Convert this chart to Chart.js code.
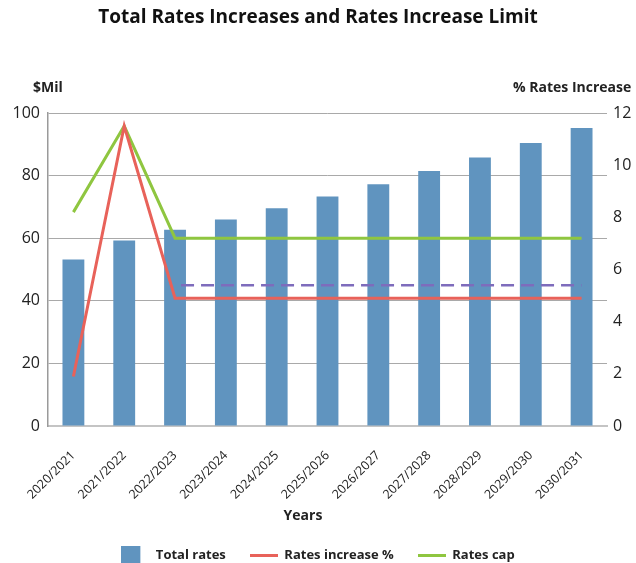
<!DOCTYPE html>
<html>
<head>
<meta charset="utf-8">
<title>Total Rates Increases and Rates Increase Limit</title>
<script src="https://cdn.jsdelivr.net/npm/chart.js@4"></script>
<style>
  html, body { margin: 0; padding: 0; background: #fff; }
  #wrap { width: 636px; height: 563px; }
</style>
</head>
<body>
<div id="wrap"><canvas id="grafico"></canvas></div>
<script>
const anos = ["2020/2021", "2021/2022", "2022/2023", "2023/2024", "2024/2025", "2025/2026",
              "2026/2027", "2027/2028", "2028/2029", "2029/2030", "2030/2031"]

// $Mil, left axis
let totalRates = [53.2, 59.3, 62.7, 66.0, 69.6, 73.3, 77.2, 81.5, 85.8, 90.4, 95.2]

// % on the right axis
let rateIncrease = [1.9, 11.5, 4.9, 4.9, 4.9, 4.9, 4.9, 4.9, 4.9, 4.9, 4.9]
let ratesCap = [8.2, 11.5, 7.2, 7.2, 7.2, 7.2, 7.2, 7.2, 7.2, 7.2, 7.2]
let benchmark = [null, null, 5.4, 5.4, 5.4, 5.4, 5.4, 5.4, 5.4, 5.4, 5.4]

const ticksEsquerda = [0, 20, 40, 60, 80, 100]
const ticksDireita = [0, 2, 4, 6, 8, 10, 12]

const fonte = "'Open Sans', Lato, sans-serif"
Chart.defaults.font.family = fonte
Chart.defaults.color = "#222"

// little canvases used as legend symbols
const icone = (w, h, cor, larguraTotal) => {
    const c = document.createElement("canvas")
    c.width = larguraTotal || w
    c.height = h
    const g = c.getContext("2d")
    g.fillStyle = cor
    g.fillRect(0, 0, w, h)
    return c
}

const titulosEixos = {
    id: "titulosEixos",
    afterDraw(chart) {
        const ctx = chart.ctx
        ctx.save()
        ctx.fillStyle = "#222"
        ctx.textBaseline = "middle"
        ctx.font = "bold 14px " + fonte
        ctx.textAlign = "left"
        ctx.fillText("$Mil", 33, 88)
        ctx.fillText("% Rates Increase", 513, 88)
        ctx.textAlign = "center"
        ctx.fillText("Years", 303, 516)
        ctx.restore()
    }
}

const grafico1 = document.getElementById("grafico")

let grafico = new Chart(grafico1, {
    type: "bar",
    data: {
        labels: anos,
        datasets: [{
            label: "Total rates",
            data: totalRates,
            backgroundColor: "#6094bf",
            yAxisID: "y",
            order: 1,
            categoryPercentage: 1,
            barPercentage: 0.43
        }, {
            type: "line",
            label: "Rates increase %",
            data: rateIncrease,
            borderColor: "#e8625a",
            borderWidth: 3,
            pointRadius: 0,
            tension: 0,
            yAxisID: "y2",
            order: 0
        }, {
            type: "line",
            label: "Rates cap",
            data: ratesCap,
            borderColor: "#8fc640",
            borderWidth: 3,
            pointRadius: 0,
            tension: 0,
            yAxisID: "y2",
            order: 0
        }, {
            type: "line",
            label: "benchmark",
            data: benchmark,
            borderColor: "#7e6cbc",
            borderWidth: 2.5,
            borderDash: [13, 7],
            borderDashOffset: 14,
            pointRadius: 0,
            tension: 0,
            yAxisID: "y2",
            order: 0
        }]
    },
    options: {
        responsive: true,
        maintainAspectRatio: false,
        animation: false,
        layout: { padding: { left: 0, right: 0, top: 0, bottom: -8.5 } },
        plugins: {
            title: {
                display: true,
                text: "Total Rates Increases and Rates Increase Limit",
                color: "#111",
                font: { size: 19, weight: "bold" },
                padding: { top: 6, bottom: 84.2 }
            },
            legend: {
                position: "bottom",
                labels: {
                    usePointStyle: true,
                    pointStyleWidth: 28,
                    padding: 24,
                    color: "#222",
                    font: { size: 13, weight: "bold" },
                    sort: (a, b) => a.datasetIndex - b.datasetIndex,
                    filter: item => item.datasetIndex < 3,
                    generateLabels(chart) {
                        const itens = Chart.defaults.plugins.legend.labels.generateLabels(chart)
                        const simbolos = [
                            icone(19, 19, "#6094bf", 28),
                            icone(28, 3, "#e8625a"),
                            icone(28, 3, "#8fc640"),
                            null
                        ]
                        itens.forEach(it => { it.pointStyle = simbolos[it.datasetIndex] })
                        return itens
                    }
                }
            },
            tooltip: { enabled: false }
        },
        scales: {
            x: {
                grid: { display: false },
                border: { display: true, color: "#c4c4c4", width: 2 },
                ticks: {
                    autoSkip: false,
                    minRotation: 45,
                    maxRotation: 45,
                    padding: 14,
                    font: { size: 12.5 },
                    color: "#222"
                },
                afterFit: scale => { scale.height = 98.5 }
            },
            y: {
                position: "left",
                min: 0,
                max: 100,
                afterBuildTicks: axis => { axis.ticks = ticksEsquerda.map(v => ({ value: v })) },
                grid: { color: "#a9a9a9", lineWidth: 1, drawTicks: false },
                border: { display: true, color: "#9a9a9a", width: 1.5 },
                ticks: { padding: 8, font: { size: 16 }, color: "#222" },
                afterFit: scale => { scale.width = 48 }
            },
            y2: {
                position: "right",
                min: 0,
                max: 12,
                afterBuildTicks: axis => { axis.ticks = ticksDireita.map(v => ({ value: v })) },
                grid: { display: false, drawTicks: false },
                border: { display: false },
                ticks: { padding: 6, font: { size: 16 }, color: "#222" },
                afterFit: scale => { scale.width = 29 }
            }
        }
    },
    plugins: [titulosEixos]
})
</script>
</body>
</html>
